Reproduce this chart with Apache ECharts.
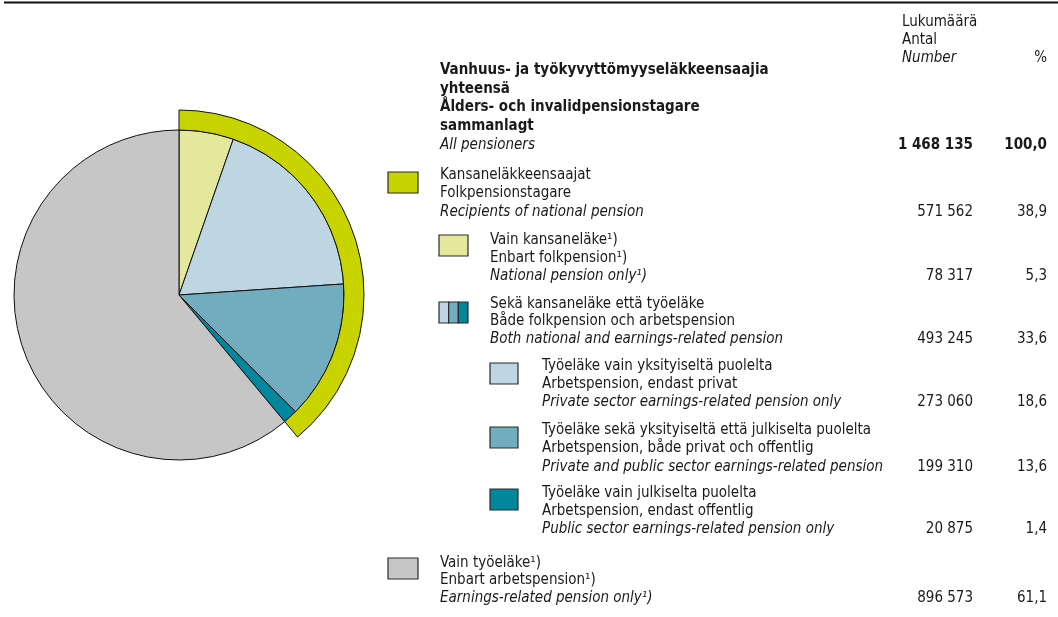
<!DOCTYPE html>
<html>
<head>
<meta charset="utf-8">
<script src="https://cdn.jsdelivr.net/npm/echarts@6/dist/echarts.min.js"></script>
<style>
  html, body { margin: 0; padding: 0; background: #fff; }
  #main { width: 1058px; height: 617px; }
</style>
</head>
<body>
<div id="main"></div>
<script>
// rivit: yhteensä, kansaneläke, vain kansaneläke, molemmat, yksityinen, yksit.+julk., julkinen, vain työeläke
const labelsFi = ['Vanhuus- ja työkyvyttömyyseläkkeensaajia\nyhteensä', 'Kansaneläkkeensaajat', 'Vain kansaneläke¹)', 'Sekä kansaneläke että työeläke', 'Työeläke vain yksityiseltä puolelta', 'Työeläke sekä yksityiseltä että julkiselta puolelta', 'Työeläke vain julkiselta puolelta', 'Vain työeläke¹)'];
const labelsSv = ['Ålders- och invalidpensionstagare\nsammanlagt', 'Folkpensionstagare', 'Enbart folkpension¹)', 'Både folkpension och arbetspension', 'Arbetspension, endast privat', 'Arbetspension, både privat och offentlig', 'Arbetspension, endast offentlig', 'Enbart arbetspension¹)'];
const labelsEn = ['All pensioners', 'Recipients of national pension', 'National pension only¹)', 'Both national and earnings-related pension', 'Private sector earnings-related pension only', 'Private and public sector earnings-related pension', 'Public sector earnings-related pension only', 'Earnings-related pension only¹)'];
const counts = [1468135, 571562, 78317, 493245, 273060, 199310, 20875, 896573];
const shares = [100.0, 38.9, 5.3, 33.6, 18.6, 13.6, 1.4, 61.1];
const colors = ['#ffffff', '#c8d400', '#e3e89d', null, '#bdd6e1', '#72adbf', '#00879e', '#c6c6c6'];
const headerLines = ['Lukumäärä', 'Antal', 'Number'];

// piirakan viipaleet (rivien indeksit) ja ulkokehä
const pieRows = [2, 4, 5, 6, 7];
const ringRows = [1, 7];

const font = '"Liberation Sans Narrow", "DejaVu Sans Condensed", "Roboto Condensed", sans-serif';
const fs = 15;

function fmtNum(v) {
  return String(v).replace(/\B(?=(\d{3})+(?!\d))/g, ' ');
}
function fmtPct(v) {
  return v.toFixed(1).replace('.', ',');
}

// layout: swatch x, text x, first line y, line step, swatch y
const layout = [
  { tx: 440, y: 70, step: 18.7 },
  { sx: 388, sw: 30, sy: 172, tx: 440, y: 175, step: 18.5 },
  { sx: 439, sw: 29, sy: 235, tx: 490, y: 240, step: 18 },
  { sx: 439, sw: 29, sy: 302, tx: 490, y: 304, step: 17.5 },
  { sx: 490, sw: 28, sy: 363, tx: 542, y: 366, step: 18 },
  { sx: 490, sw: 28, sy: 427, tx: 542, y: 430, step: 18.5 },
  { sx: 490, sw: 28, sy: 489, tx: 542, y: 493, step: 18 },
  { sx: 388, sw: 30, sy: 558, tx: 440, y: 563, step: 17.5 }
];

let graphics = [];
graphics.push({ type: 'line', shape: { x1: 4, y1: 2.5, x2: 1058, y2: 2.5 }, style: { stroke: '#111', lineWidth: 2 } });

function txt(x, y, s, opts) {
  graphics.push({
    type: 'text', x: x, y: y,
    style: Object.assign({ text: s, font: fs + 'px ' + font, fill: '#1a1a1a', align: 'left', verticalAlign: 'middle' }, opts || {})
  });
}
function fontOf(weight, italic) {
  return (italic ? 'italic ' : '') + (weight || 'normal') + ' ' + fs + 'px ' + font;
}

headerLines.forEach(function (s, i) {
  txt(902, 22 + i * 18, s, { font: fontOf('normal', i === 2) });
});
txt(1047, 58, '%', { align: 'right' });

layout.forEach(function (L, r) {
  let lines = [];
  labelsFi[r].split('\n').forEach(function (s) { lines.push([s, r === 0 ? 'bold' : 'normal', false]); });
  labelsSv[r].split('\n').forEach(function (s) { lines.push([s, r === 0 ? 'bold' : 'normal', false]); });
  lines.push([labelsEn[r], 'normal', true]);
  let lastY = L.y;
  lines.forEach(function (ln, i) {
    lastY = L.y + i * L.step;
    txt(L.tx, lastY, ln[0], { font: fontOf(ln[1], ln[2]) });
  });
  let w = r === 0 ? 'bold' : 'normal';
  txt(973, lastY, fmtNum(counts[r]), { align: 'right', font: fontOf(w, false) });
  txt(1047, lastY, fmtPct(shares[r]), { align: 'right', font: fontOf(w, false) });
  if (L.sx !== undefined) {
    if (colors[r]) {
      graphics.push({ type: 'rect', shape: { x: L.sx, y: L.sy, width: L.sw, height: 21 }, style: { fill: colors[r], stroke: '#2a2a2a', lineWidth: 1.2 } });
    } else {
      // kolmijakoinen ruutu
      let sub = [4, 5, 6];
      let part = L.sw / 3;
      sub.forEach(function (k, j) {
        graphics.push({ type: 'rect', shape: { x: L.sx + j * part, y: L.sy, width: part, height: 21 }, style: { fill: colors[k], stroke: '#2a2a2a', lineWidth: 1.2 } });
      });
    }
  }
});

let chart = echarts.init(document.getElementById('main'), null, { renderer: 'canvas' });
chart.setOption({
  animation: false,
  backgroundColor: '#ffffff',
  graphic: { elements: graphics },
  series: [
    {
      type: 'pie',
      silent: true,
      center: [179, 295],
      radius: [0, 165],
      startAngle: 90,
      clockwise: true,
      label: { show: false },
      labelLine: { show: false },
      itemStyle: { borderColor: '#111', borderWidth: 1 },
      data: pieRows.map(function (r) {
        return { name: labelsEn[r], value: counts[r], itemStyle: { color: colors[r] } };
      })
    },
    {
      type: 'pie',
      silent: true,
      center: [179, 295],
      radius: [165, 185],
      startAngle: 90,
      clockwise: true,
      label: { show: false },
      labelLine: { show: false },
      data: ringRows.map(function (r, i) {
        return {
          name: labelsEn[r], value: counts[r],
          itemStyle: i === 0 ? { color: colors[r], borderColor: '#111', borderWidth: 1 } : { color: 'rgba(0,0,0,0)', borderWidth: 0 }
        };
      })
    }
  ]
});
</script>
</body>
</html>
